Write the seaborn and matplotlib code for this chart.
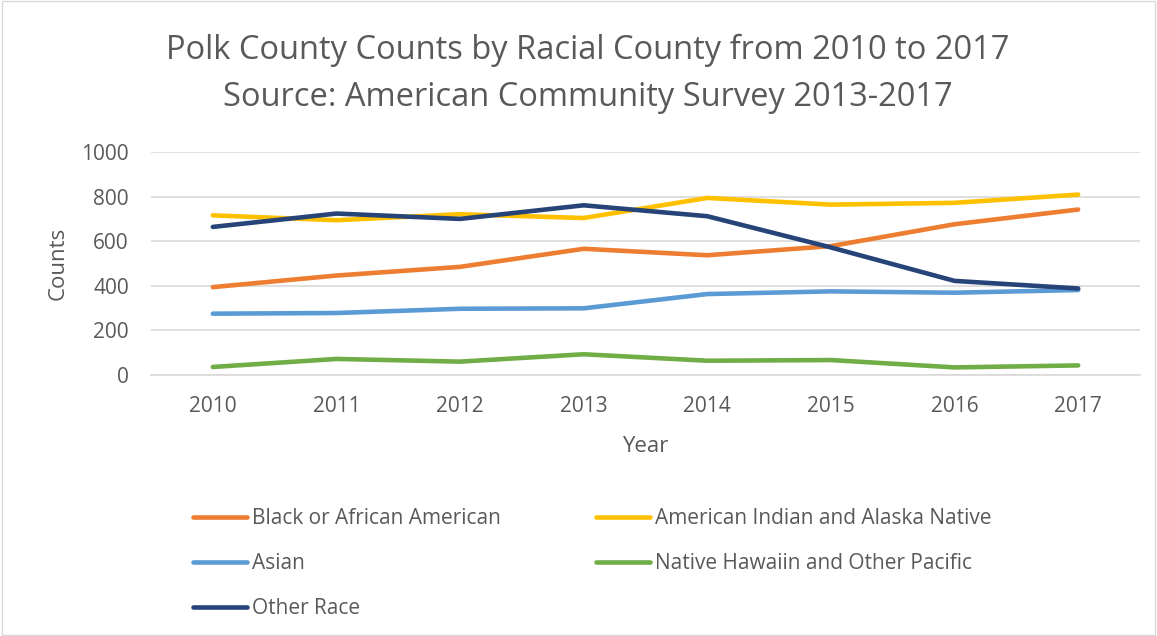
import matplotlib
matplotlib.use("Agg")
import matplotlib.pyplot as plt
import seaborn as sns
import pandas as pd

# Polk County counts by race, ACS 2013-2017
years = [2010, 2011, 2012, 2013, 2014, 2015, 2016, 2017]
black = [394, 446, 485, 566, 537, 578, 676, 742]
am_indian = [716, 694, 721, 704, 794, 764, 772, 809]
asian = [275, 278, 297, 299, 363, 375, 369, 381]
hawaiian = [36, 72, 60, 93, 64, 67, 34, 43]
other = [664, 724, 700, 761, 712, 572, 422, 388]

series_names = ["Black or African American", "American Indian and Alaska Native",
                "Asian", "Native Hawaiin and Other Pacific", "Other Race"]
series_values = [black, am_indian, asian, hawaiian, other]
colors = ["#ED7D31", "#FFC000", "#5B9BD5", "#70AD47", "#264478"]

rows = []
for name, vals in zip(series_names, series_values):
    for i, v in enumerate(vals):
        rows.append({"pos": i, "Year": years[i], "Counts": v, "Race": name})
df = pd.DataFrame(rows)

sns.set_theme(style="white")
plt.rcParams['font.family'] = ['Open Sans', 'DejaVu Sans']
text_col = "#595959"

fig = plt.figure(figsize=(11.57, 6.36), dpi=100)
ax = fig.add_axes([151 / 1157, 1 - 375 / 636, (1140 - 151) / 1157, (375 - 152) / 636])

sns.lineplot(data=df, x="pos", y="Counts", hue="Race", hue_order=series_names,
             palette=colors, linewidth=3.3, ax=ax, legend=False,
             solid_capstyle="round")

ax.set_xlim(-0.5, len(years) - 0.5)
ax.set_ylim(0, 1000)
ax.set_xticks(range(len(years)))
ax.set_xticklabels([str(y) for y in years])
ax.set_yticks(range(0, 1001, 200))
ax.yaxis.grid(True, color="#D9D9D9", linewidth=1.2)
ax.set_axisbelow(True)
for s in ["top", "right", "left"]:
    ax.spines[s].set_visible(False)
ax.spines["bottom"].set_color("#D9D9D9")
ax.spines["bottom"].set_linewidth(1.2)
ax.tick_params(axis="both", colors=text_col, labelsize=15, length=0)
ax.tick_params(axis="x", pad=15)
ax.tick_params(axis="y", pad=16)
ax.set_xlabel("Year", fontsize=16, color=text_col, labelpad=14)
ax.set_ylabel("Counts", fontsize=16, color=text_col, labelpad=9)

fig.text(0.508, 0.921, "Polk County Counts by Racial County from 2010 to 2017",
         ha="center", va="center", fontsize=23.5, color=text_col)
fig.text(0.508, 0.846, "Source: American Community Survey 2013-2017",
         ha="center", va="center", fontsize=23.5, color=text_col)

# legend, row-major order like the original
handles = [plt.Line2D([], [], color=c, linewidth=3.3, solid_capstyle="round") for c in colors]
order = [0, 2, 4, 1, 3]
fig.legend([handles[i] for i in order], [series_names[i] for i in order],
           ncol=2, loc="upper left", bbox_to_anchor=(193 / 1157, 1 - 508 / 636),
           frameon=False, fontsize=15, labelcolor=text_col, handlelength=2.6,
           handletextpad=0.25, columnspacing=4.55, labelspacing=1.15,
           borderpad=0, borderaxespad=0)

# light border around the chart
fig.patches.append(plt.Rectangle((0.002, 0.002), 0.996, 0.996, transform=fig.transFigure,
                                 fill=False, edgecolor="#D9D9D9", linewidth=1))

fig.savefig("out.png", dpi=100)
